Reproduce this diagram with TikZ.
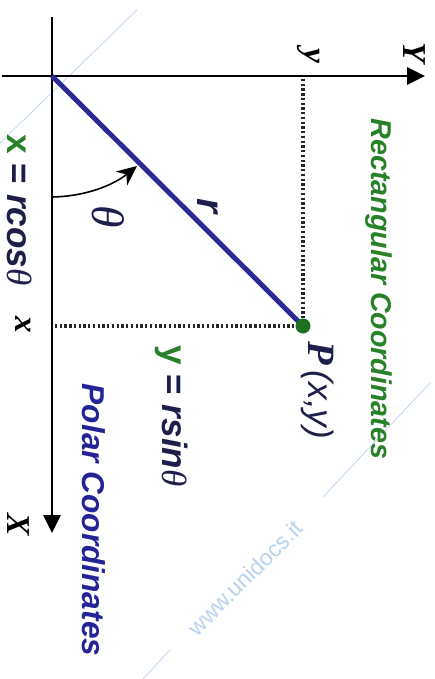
\documentclass[tikz,border=0pt]{standalone}
\usepackage{fontspec}
\setmainfont{Liberation Serif}
\setsansfont{Liberation Sans}
\usetikzlibrary{arrows.meta}
\definecolor{lineblue}{RGB}{42,42,150}
\definecolor{dotgreen}{RGB}{28,112,32}
\definecolor{txtgreen}{RGB}{40,128,40}
\definecolor{txtblue}{RGB}{36,36,150}
\definecolor{navy}{RGB}{30,30,75}
\definecolor{wm}{RGB}{185,210,240}
\newcommand{\thetaglyph}{{\rmfamily\itshape θ}}
\begin{document}
\begin{tikzpicture}[x=0.02cm,y=-0.02cm,
  rot/.style={rotate=-90,inner sep=0pt},
  axis/.style={line width=1.7pt,black,-{Triangle[length=3.6mm,width=3.4mm]}},
  dotline/.style={line width=1.9pt,black!85,dash pattern=on 1.3pt off 1.4pt},
  radiusline/.style={line width=2.8pt,lineblue},
  pdot/.style={circle,fill=dotgreen,minimum size=0.3cm,inner sep=0pt},
  thetaarrow/.style={line width=0.9pt,black,-{Stealth[length=4mm,width=3.6mm]}},
  wmline/.style={line width=0.4pt,wm},
  axlabel/.style={rot,font=\fontsize{19}{21}\selectfont\bfseries\itshape},
]
\useasboundingbox (0,0) rectangle (434,679);
\fill[white] (0,0) rectangle (434,679);
% watermark
\draw[wmline] (137,10) -- (0,143);
\draw[wmline] (430,383) -- (323,497);
\draw[wmline] (170,650) -- (143,679);
\node[rotate=45,text=wm,font=\sffamily\fontsize{13}{15}\selectfont] (wmtext) at (245,578) {www.unidocs.it};
% points
\coordinate (O) at (52,76);
\coordinate (Ys) at (2,76);
\coordinate (Ye) at (425,76);
\coordinate (Xs) at (52,17);
\coordinate (Xe) at (52,533);
\coordinate (Pc) at (303,326);
\coordinate (Py) at (303,79);
\coordinate (Px) at (55,326);
% axes
\draw[axis] (Ys) -- (Ye);
\draw[axis] (Xs) -- (Xe);
% dotted projections
\draw[dotline] (Py) -- (Pc);
\draw[dotline] (Px) -- (Pc);
% radius
\draw[radiusline] (O) -- (Pc);
\node[pdot] (P) at (Pc) {};
% theta arc
\coordinate (A0) at (53,197);
\coordinate (A1) at (137,166);
\draw[thetaarrow] (A0) .. controls (90,196) and (116,183) .. (A1);
% labels
\node[axlabel] (Ylab) at (414,53) {Y};
\node[axlabel] (Xlab) at (18,525) {X};
\node[axlabel] (ylab) at (309,56) {y};
\node[axlabel] (xlab) at (23,325) {x};
\node[rot,font=\fontsize{26}{28}\selectfont,text=navy] (th) at (108,217) {\thetaglyph};
\node[rot,font=\sffamily\bfseries\itshape\fontsize{22}{24}\selectfont,text=navy] (r) at (208,206) {r};
\node[rot,font=\sffamily\fontsize{20}{22}\selectfont,text=navy] (xeq) at (20,210)
  {\textcolor{txtgreen}{\bfseries x} \textbf{=} \textbf{\itshape rcos}\thetaglyph};
\node[rot,font=\sffamily\fontsize{20}{22}\selectfont,text=navy] (yeq) at (172,416)
  {\textcolor{txtgreen}{\bfseries y} \textbf{=} \textbf{\itshape rsin}\thetaglyph};
\node[rot,font=\sffamily\itshape\fontsize{20}{22}\selectfont,text=navy,anchor=west] (Plab) at (318,341)
  {{\rmfamily\bfseries\fontsize{22}{24}\selectfont P}\,(x,y)};
\node[rot,font=\sffamily\bfseries\itshape\fontsize{16.3}{19}\selectfont,text=txtgreen] (rect) at (379,289) {Rectangular Coordinates};
\node[rot,font=\sffamily\bfseries\itshape\fontsize{18}{20}\selectfont,text=txtblue] (polar) at (94,520) {Polar Coordinates};
\end{tikzpicture}
\end{document}
